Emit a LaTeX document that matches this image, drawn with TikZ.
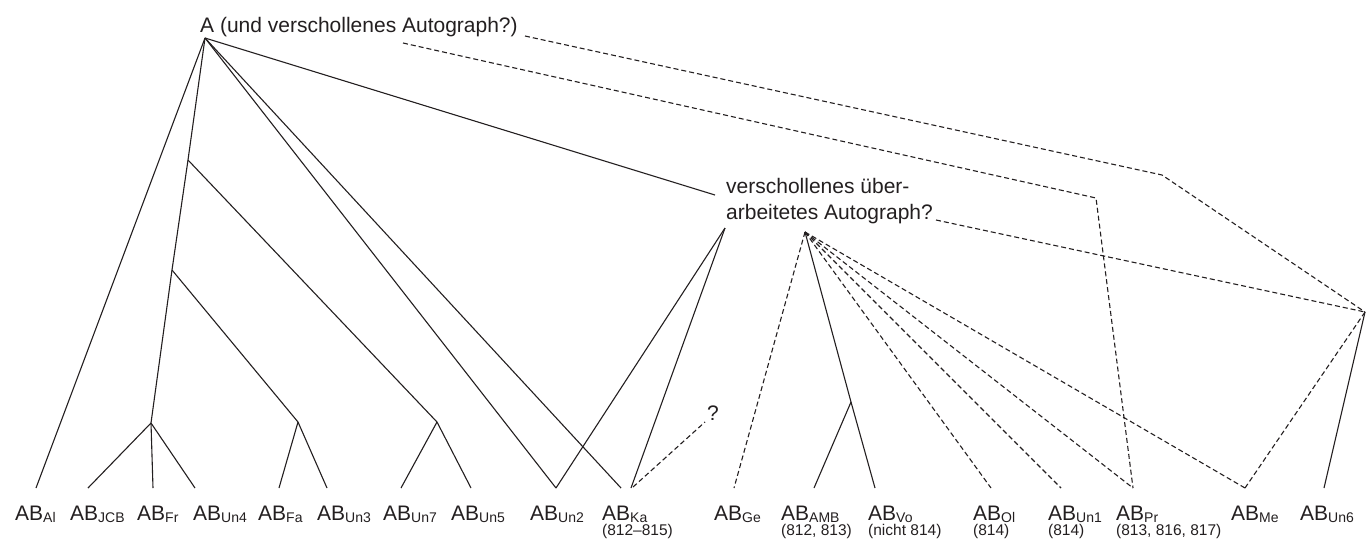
\documentclass[tikz,border=0pt]{standalone}
\usepackage{fontspec}
\setmainfont{Liberation Sans}
\definecolor{ink}{RGB}{35,31,32}
\newcommand\absig[1]{AB\raisebox{-2pt}{\fontsize{14}{14}\selectfont #1}}
\newcommand\smnum{\fontsize{15.5}{15}\selectfont}
\begin{document}
\begin{tikzpicture}[x=1pt,y=-1pt,
  con/.style={draw=ink, line width=1.1pt, line join=round},
  dsh/.style={con, dash pattern=on 5pt off 3pt},
  lab/.style={anchor=base west, inner sep=0pt, align=left, text=ink, font=\fontsize{21}{15}\selectfont},
  ttl/.style={anchor=base west, inner sep=0pt, align=left, text=ink, font=\fontsize{21}{26}\selectfont}]
\useasboundingbox (0,0) rectangle (1367,542);

% top and intermediate texts (base anchor = baseline of last line)
\node[ttl] (A) at (200,32) {A (und verschollenes Autograph?)};
\node[ttl] (V) at (726,219) {verschollenes über-\\arbeitetes Autograph?};
\node[ttl] (Q) at (707,420) {?};

% attachment points
\coordinate (Aap) at (205,38);
\coordinate (Ad1) at (525,36);
\coordinate (Ad2) at (403,43);
\coordinate (Vin) at (715,195);
\coordinate (VL) at (725,228);
\coordinate (VR) at (805,232);
\coordinate (VD) at (936,220);
\coordinate (Qp) at (705,422);
\coordinate (j1) at (188,160);
\coordinate (j2) at (172,270);
\coordinate (b1) at (151,423);
\coordinate (b2) at (298,422);
\coordinate (b3) at (437,422);
\coordinate (bAMB) at (851,402);
\coordinate (c1) at (1162,175);
\coordinate (c2) at (1096,198);
\coordinate (X) at (1365,312);

% bottom labels
\node[lab] (lAl)  at (15,520)   {\absig{Al}};
\node[lab] (lJCB) at (70,520)   {\absig{JCB}};
\node[lab] (lFr)  at (137,520)  {\absig{Fr}};
\node[lab] (lUn4) at (193,520)  {\absig{Un4}};
\node[lab] (lFa)  at (258,520)  {\absig{Fa}};
\node[lab] (lUn3) at (317,520)  {\absig{Un3}};
\node[lab] (lUn7) at (383,520)  {\absig{Un7}};
\node[lab] (lUn5) at (451,520)  {\absig{Un5}};
\node[lab] (lUn2) at (530,520)  {\absig{Un2}};
\node[lab] (lKa)  at (602,535)  {\absig{Ka}\\\smnum(812–815)};
\node[lab] (lGe)  at (714,520)  {\absig{Ge}};
\node[lab] (lAMB) at (781,535)  {\absig{AMB}\\\smnum(812, 813)};
\node[lab] (lVo)  at (868,535)  {\absig{Vo}\\\smnum(nicht 814)};
\node[lab] (lOl)  at (973,535)  {\absig{Ol}\\\smnum(814)};
\node[lab] (lUn1) at (1048,535) {\absig{Un1}\\\smnum(814)};
\node[lab] (lPr)  at (1116,535) {\absig{Pr}\\\smnum(813, 816, 817)};
\node[lab] (lMe)  at (1231,520) {\absig{Me}};
\node[lab] (lUn6) at (1300,520) {\absig{Un6}};

% line ends above the labels
\coordinate (tAl)  at (36,488);
\coordinate (tJCB) at (88,488);
\coordinate (tFr)  at (153,488);
\coordinate (tUn4) at (195,488);
\coordinate (tFa)  at (279,488);
\coordinate (tUn3) at (327,488);
\coordinate (tUn7) at (401,488);
\coordinate (tUn5) at (471,488);
\coordinate (tUn2) at (556,488);
\coordinate (tKa)  at (621,488);
\coordinate (tKb)  at (631,488);
\coordinate (tKc)  at (633,487);
\coordinate (tGe)  at (734,488);
\coordinate (tAMB) at (814,488);
\coordinate (tVo)  at (875,488);
\coordinate (tOl)  at (991,488);
\coordinate (tUn1) at (1061,488);
\coordinate (tPr)  at (1133,488);
\coordinate (tMe)  at (1245,488);
\coordinate (tUn6) at (1324,488);

% solid connectors
\draw[con] (Aap) -- (tAl);
\draw[con] (Aap) -- (j1) -- (j2) -- (b1);
\draw[con] (j1) -- (b3);
\draw[con] (j2) -- (b2);
\draw[con] (b1) -- (tJCB);
\draw[con] (b1) -- (tFr);
\draw[con] (b1) -- (tUn4);
\draw[con] (b2) -- (tFa);
\draw[con] (b2) -- (tUn3);
\draw[con] (b3) -- (tUn7);
\draw[con] (b3) -- (tUn5);
\draw[con] (Aap) -- (tUn2);
\draw[con] (Aap) -- (tKa);
\draw[con] (Aap) -- (Vin);
\draw[con] (VL) -- (tUn2);
\draw[con] (VL) -- (tKb);
\draw[con] (VR) -- (bAMB) -- (tVo);
\draw[con] (bAMB) -- (tAMB);
\draw[con] (X) -- (tUn6);

% dashed connectors
\draw[dsh] (tKc) -- (Qp);
\draw[dsh] (VR) -- (tGe);
\draw[dsh] (VR) -- (tOl);
\draw[dsh] (VR) -- (tUn1);
\draw[dsh] (VR) -- (tPr);
\draw[dsh] (VR) -- (tMe);
\draw[dsh] (Ad1) -- (c1) -- (X);
\draw[dsh] (Ad2) -- (c2) -- (tPr);
\draw[dsh] (VD) -- (X);
\draw[dsh] (X) -- (tMe);
\end{tikzpicture}
\end{document}
